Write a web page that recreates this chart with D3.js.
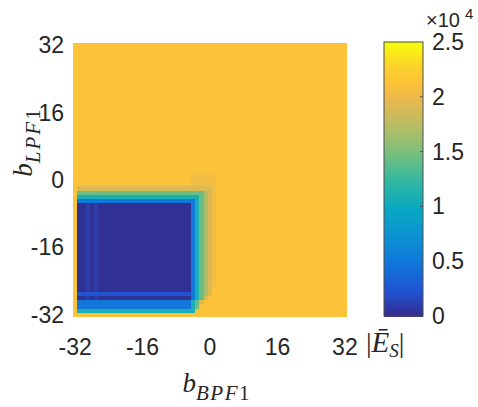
<!DOCTYPE html>
<html>
<head>
<meta charset="utf-8">
<script src="https://cdn.jsdelivr.net/npm/d3@7"></script>
<style>
  body { margin: 0; background: #fff; }
  text { font-family: "Liberation Sans", Arial, sans-serif; fill: #262626; }
  .math { font-family: "Liberation Serif", "DejaVu Serif", serif; font-style: italic; }
</style>
</head>
<body>
<svg width="478" height="407"></svg>
<script>
// axis ticks
const xTicks = [-32, -16, 0, 16, 32];
const yTicks = [-32, -16, 0, 16, 32];
const cbTicks = [0, 0.5, 1, 1.5, 2, 2.5];

// levels (x 10^4)
const levelKeys   = ["o", "u", "t", "y", "g", "c", "b", "m", "n", "d"];
const levelValues = [2.12, 2.05, 1.92, 1.70, 1.45, 1.10, 0.50, 0.25, 0.11, 0.04];

// grid rows, top (b=32) to bottom (b=-32), 65 cells each, run-length coded
const darkRow = "o1 d2 n1 d1 n1 d22 b1 c1 g1 y1 t1 u1 o31";
const rowRuns = [
  [31, "o65"],
  [3,  "o28 u6 o31"],
  [1,  "o1 t32 u1 o31"],
  [1,  "o1 g30 y1 t1 u1 o31"],
  [1,  "o1 c29 g1 y1 t1 u1 o31"],
  [1,  "o1 b28 c1 g1 y1 t1 u1 o31"],
  [20, darkRow],
  [1,  "o1 d2 n1 d1 n1 d22 b1 c1 g1 y1 t1 o32"],
  [1,  "o1 m27 b1 c1 g1 y1 t1 o32"],
  [1,  "o1 d2 n1 d1 n1 d22 b1 c1 g1 t1 o33"],
  [1,  "o1 b27 c1 g1 t1 o34"],
  [1,  "o1 b27 c1 g1 o35"],
  [1,  "o1 c28 o36"],
  [1,  "o65"]
];

// parula colormap stops
const parula = ["#352a87","#2053d4","#1079da","#0c93d2","#07a9c2","#38b99e",
                "#7cbf7b","#b7bd64","#e9b94e","#ffc337","#fcce2e","#f9fb0e"];
const parulaPos = [0, 0.095, 0.206, 0.302, 0.397, 0.508, 0.603, 0.698, 0.794, 0.857, 0.905, 1];

const svg = d3.select("svg");

const x = d3.scaleLinear().domain([-32.5, 32.5]).range([73, 347]);
const y = d3.scaleLinear().domain([-32.5, 32.5]).range([317, 43]);
const color = d3.scaleLinear()
  .domain(parulaPos.map(p => p * 2.5))
  .range(parula)
  .clamp(true);

// decode the rows
const cells = [];
let r = 0;
rowRuns.forEach(function (rr) {
  for (let k = 0; k < rr[0]; k++) {
    let c = 0;
    rr[1].split(" ").forEach(function (tok) {
      const key = tok[0];
      const n = +tok.slice(1);
      for (let i = 0; i < n; i++) {
        cells.push({bx: -32 + c, by: 32 - r, v: levelValues[levelKeys.indexOf(key)]});
        c++;
      }
    });
    r++;
  }
});

svg.append("g")
  .attr("shape-rendering", "crispEdges")
  .selectAll("rect")
  .data(cells)
  .enter()
  .append("rect")
  .attr("x", d => Math.round(x(d.bx - 0.5)))
  .attr("y", d => Math.round(y(d.by + 0.5)))
  .attr("width", d => Math.round(x(d.bx + 0.5)) - Math.round(x(d.bx - 0.5)))
  .attr("height", d => Math.round(y(d.by - 0.5)) - Math.round(y(d.by + 0.5)))
  .attr("fill", d => color(d.v));

// tick labels
svg.append("g")
  .selectAll("text")
  .data(xTicks)
  .enter()
  .append("text")
  .attr("x", d => x(d))
  .attr("y", 355)
  .attr("text-anchor", "middle")
  .style("font-size", "23px")
  .text(d => d);

svg.append("g")
  .selectAll("text")
  .data(yTicks)
  .enter()
  .append("text")
  .attr("x", 64)
  .attr("y", d => y(d) + 8)
  .attr("text-anchor", "end")
  .style("font-size", "23px")
  .text(d => d);

// axis titles
const xt = svg.append("text")
  .attr("class", "math")
  .attr("x", 216)
  .attr("y", 392)
  .attr("text-anchor", "middle");
xt.append("tspan").style("font-size", "27px").text("b");
xt.append("tspan").style("font-size", "21px").style("letter-spacing", "1.5px").attr("dy", 8).text("BPF");
xt.append("tspan").style("font-size", "21px").style("font-style", "normal").text("1");

const yt = svg.append("text")
  .attr("class", "math")
  .attr("transform", "translate(32,143) rotate(-90)")
  .attr("text-anchor", "middle");
yt.append("tspan").style("font-size", "27px").text("b");
yt.append("tspan").style("font-size", "21px").style("letter-spacing", "2px").attr("dy", 8).text("LPF");
yt.append("tspan").style("font-size", "21px").style("font-style", "normal").text("1");

// colorbar, drawn as thin slices of the colour scale
const cbX = 384, cbW = 39;
const cy = d3.scaleLinear().domain([0, 2.5]).range([316, 42]);
const cbSteps = d3.range(0, 2.5, 2.5 / 137);

svg.append("g")
  .attr("shape-rendering", "crispEdges")
  .selectAll("rect")
  .data(cbSteps)
  .enter()
  .append("rect")
  .attr("x", cbX)
  .attr("y", d => cy(d + 2.5 / 137))
  .attr("width", cbW)
  .attr("height", cy(0) - cy(2.5 / 137) + 0.5)
  .attr("fill", d => color(d + 1.25 / 137));

svg.append("rect")
  .attr("x", cbX).attr("y", cy(2.5))
  .attr("width", cbW).attr("height", cy(0) - cy(2.5))
  .attr("fill", "none")
  .attr("stroke", "#4d4d4d")
  .attr("stroke-width", 1);

svg.append("g")
  .selectAll("line")
  .data(cbTicks.slice(1, -1))
  .enter()
  .append("line")
  .attr("x1", cbX + cbW - 3).attr("x2", cbX + cbW)
  .attr("y1", d => cy(d)).attr("y2", d => cy(d))
  .attr("stroke", "#4d4d4d");

svg.append("g")
  .selectAll("text")
  .data(cbTicks)
  .enter()
  .append("text")
  .attr("x", 432)
  .attr("y", d => cy(d) + 8)
  .style("font-size", "23px")
  .text(d => d);

// exponent label above the colorbar
svg.append("text")
  .attr("x", 426).attr("y", 27)
  .attr("font-size", 20)
  .style("font-size", "20px")
  .text("\u00d710");
svg.append("text")
  .attr("x", 465).attr("y", 19)
  .attr("font-size", 15)
  .style("font-size", "15px")
  .text("4");

const el = svg.append("text")
  .attr("class", "math")
  .attr("x", 366)
  .attr("y", 352);
el.append("tspan").style("font-style", "normal").style("font-size", "28px").text("|");
el.append("tspan").style("font-size", "29px").text("\u0112");
el.append("tspan").style("font-size", "19px").attr("dy", 5).text("S");
el.append("tspan").style("font-style", "normal").style("font-size", "28px").attr("dy", -5).text("|");
</script>
</body>
</html>
